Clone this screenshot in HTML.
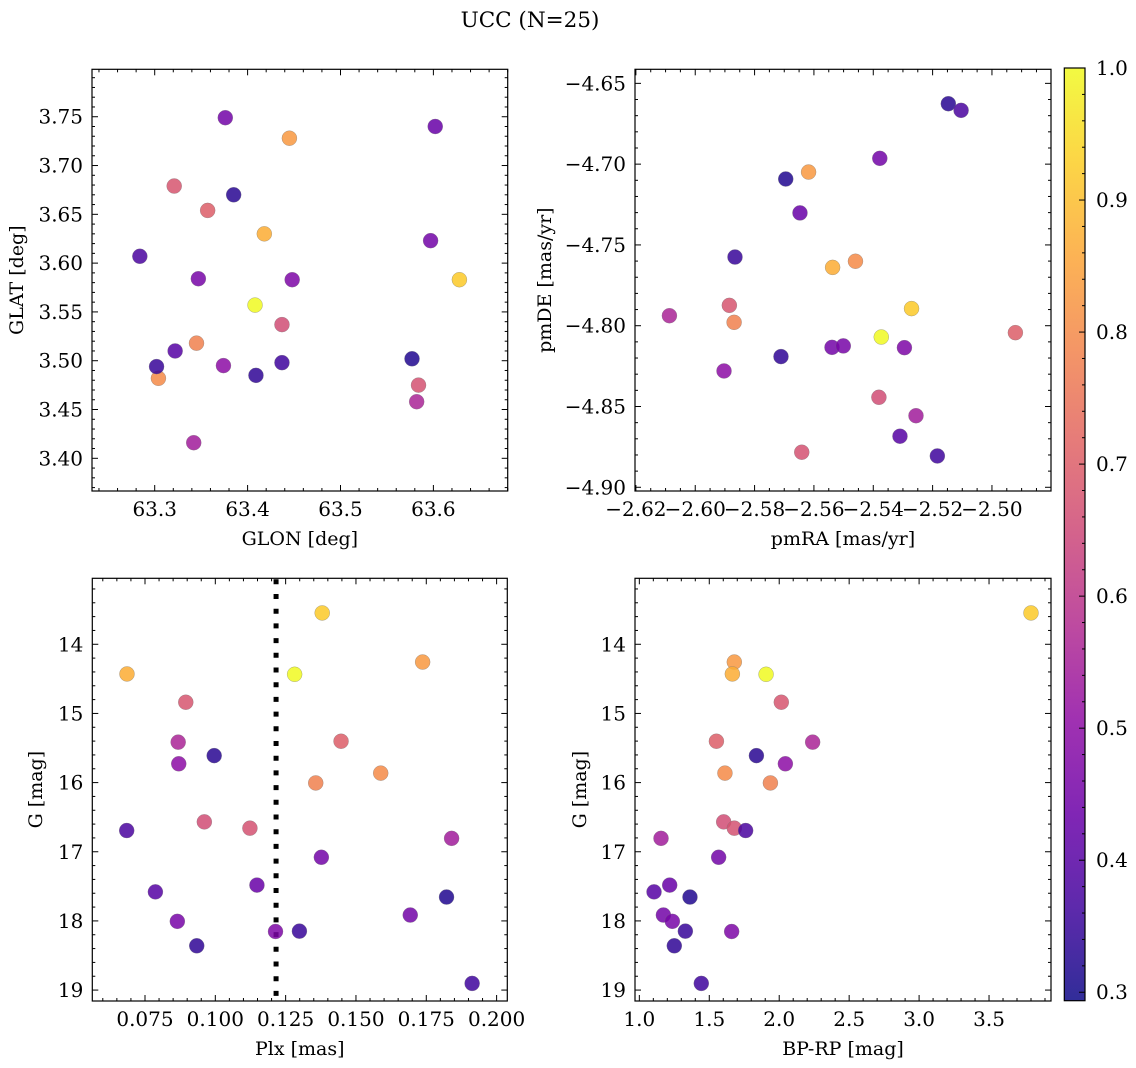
<!DOCTYPE html>
<html><head><meta charset="utf-8">
<style>
html,body{margin:0;padding:0;background:#fff;}
svg{display:block;font-family:"DejaVu Serif","Liberation Serif",serif;}
</style></head>
<body>
<svg id="fig" width="1136" height="1068" viewBox="0 0 1136 1068" xmlns="http://www.w3.org/2000/svg">
<rect width="1136" height="1068" fill="#fff"/>
<text x="530" y="27" font-size="21.5" text-anchor="middle">UCC (N=25)</text>
</svg>
<script>
// ---- data (one entry per star) ----
const glon = [63.628,63.445,63.418,63.408,63.321,63.357,63.582,63.385,63.374,63.304,63.345,63.437,63.584,63.284,63.342,63.376,63.602,63.322,63.577,63.597,63.347,63.302,63.448,63.409,63.437];
const glat = [3.583,3.728,3.630,3.557,3.679,3.654,3.458,3.670,3.495,3.482,3.518,3.537,3.475,3.607,3.416,3.749,3.740,3.510,3.502,3.623,3.584,3.494,3.583,3.485,3.498];
const pmra = [-2.5271,-2.5618,-2.5537,-2.5373,-2.5885,-2.4921,-2.6087,-2.5147,-2.5903,-2.5460,-2.5869,-2.5381,-2.5641,-2.5104,-2.5256,-2.5378,-2.5647,-2.5310,-2.5695,-2.5539,-2.5501,-2.5866,-2.5295,-2.5711,-2.5184];
const pmde = [-4.7894,-4.7049,-4.7639,-4.8070,-4.7874,-4.8043,-4.7938,-4.6626,-4.8280,-4.7601,-4.7979,-4.8443,-4.8783,-4.6667,-4.8557,-4.6964,-4.7302,-4.8684,-4.7092,-4.8134,-4.8125,-4.7575,-4.8136,-4.8191,-4.8806];
const plx = [0.1380,0.1737,0.0686,0.1282,0.0895,0.1447,0.0868,0.0996,0.0870,0.1588,0.1357,0.0961,0.1123,0.0685,0.1840,0.1377,0.1148,0.0787,0.1822,0.1693,0.0865,0.1299,0.1214,0.0934,0.1913];
const gmag = [13.547,14.257,14.429,14.434,14.838,15.402,15.415,15.610,15.728,15.863,16.005,16.568,16.659,16.693,16.806,17.080,17.482,17.580,17.655,17.915,18.006,18.148,18.153,18.360,18.904];
const bprp = [3.800,1.679,1.665,1.906,2.015,1.551,2.239,1.837,2.044,1.612,1.937,1.603,1.679,1.760,1.155,1.567,1.217,1.105,1.362,1.172,1.236,1.329,1.660,1.250,1.443];
const prob = [0.92,0.83,0.87,1.00,0.68,0.70,0.56,0.33,0.50,0.80,0.78,0.66,0.67,0.38,0.54,0.45,0.43,0.40,0.32,0.45,0.46,0.35,0.47,0.34,0.36];
const plxCut = [0.1216];
const cbTicks = [0.3,0.4,0.5,0.6,0.7,0.8,0.9,1.0];

const NS="http://www.w3.org/2000/svg";
const fig=document.getElementById('fig');
function mk(tag,attrs,parent){const e=document.createElementNS(NS,tag);for(const k in attrs)e.setAttribute(k,attrs[k]);(parent||fig).appendChild(e);return e;}

const stops=[[0,13,8,135],[0.1,65,4,157],[0.2,106,0,168],[0.3,143,13,164],[0.4,177,42,144],[0.5,204,71,120],[0.6,225,100,98],[0.7,242,132,75],[0.8,252,166,54],[0.9,252,206,37],[1,240,249,33]];
function plasma(t){t=Math.max(0,Math.min(1,t));for(let i=0;i<stops.length-1;i++){const a=stops[i],b=stops[i+1];if(t<=b[0]){const f=(t-a[0])/(b[0]-a[0]);return `rgb(${Math.round(a[1]+f*(b[1]-a[1]))},${Math.round(a[2]+f*(b[2]-a[2]))},${Math.round(a[3]+f*(b[3]-a[3]))})`;}}return 'rgb(240,249,33)';}
const vmin=0.2936,vmax=1.0;
function cnorm(v){return (v-vmin)/(vmax-vmin);}

function fmt(v,d){const s=Math.abs(v).toFixed(d);return (v<0?'\u2212':'')+s;}
const FS=20, LFS=19;

function panel(cfg){
  const g=mk('g',{});
  
  
  const {L,R,T,B}=cfg;
  const sx=v=>L+(v-cfg.x0)/(cfg.x1-cfg.x0)*(R-L);
  const sy=cfg.yinv? (v=>T+(v-cfg.y0)/(cfg.y1-cfg.y0)*(B-T)) : (v=>B-(v-cfg.y0)/(cfg.y1-cfg.y0)*(B-T));
  const eps=1e-9;
  const xmn=Math.min(cfg.x0,cfg.x1), xmx=Math.max(cfg.x0,cfg.x1);
  for(let v=Math.ceil(xmn/cfg.xminor-eps)*cfg.xminor; v<=xmx+eps; v+=cfg.xminor){
    const isMaj=Math.abs(v/cfg.xmajor-Math.round(v/cfg.xmajor))<1e-6;
    const len=isMaj?6:3, x=sx(v);
    mk('line',{x1:x,x2:x,y1:B,y2:B-len,stroke:'#000','stroke-width':1},g);
    mk('line',{x1:x,x2:x,y1:T,y2:T+len,stroke:'#000','stroke-width':1},g);
  }
  const ymn=Math.min(cfg.y0,cfg.y1), ymx=Math.max(cfg.y0,cfg.y1);
  for(let v=Math.ceil(ymn/cfg.yminor-eps)*cfg.yminor; v<=ymx+eps; v+=cfg.yminor){
    const isMaj=Math.abs(v/cfg.ymajor-Math.round(v/cfg.ymajor))<1e-6;
    const len=isMaj?6:3, y=sy(v);
    mk('line',{x1:L,x2:L+len,y1:y,y2:y,stroke:'#000','stroke-width':1},g);
    mk('line',{x1:R,x2:R-len,y1:y,y2:y,stroke:'#000','stroke-width':1},g);
  }
  cfg.xticks.forEach(v=>{const t=mk('text',{x:sx(v),y:cfg.xtY,'font-size':FS,'text-anchor':'middle'},g);t.textContent=fmt(v,cfg.xd);
    
    });
  cfg.yticks.forEach(v=>{const t=mk('text',{x:L-9,y:sy(v)+7,'font-size':FS,'text-anchor':'end'},g);t.textContent=fmt(v,cfg.yd);
    
    });
  const xl=mk('text',{x:(L+R)/2,y:cfg.xlY,'font-size':LFS,'text-anchor':'middle'},g);xl.textContent=cfg.xlabel;
  
  
  const yl=mk('text',{x:cfg.ylX,y:(T+B)/2,'font-size':LFS,'text-anchor':'middle',transform:`rotate(-90 ${cfg.ylX} ${(T+B)/2})`},g);yl.textContent=cfg.ylabel;
  
  
  if(cfg.vline){cfg.vline.forEach(v=>{const l=mk('line',{x1:sx(v),x2:sx(v),y1:T+1,y2:B,stroke:'#000','stroke-width':5,'stroke-dasharray':'5 9.7'},g);
    
    });}
  for(let i=0;i<cfg.xs.length;i++){
    const c=mk('circle',{cx:sx(cfg.xs[i]),cy:sy(cfg.ys[i]),r:7.5,fill:plasma(cnorm(prob[i])),'fill-opacity':0.85,stroke:'#777','stroke-width':0.5,'stroke-opacity':0.6},g);
    
    
  }
  mk('rect',{x:L,y:T,width:R-L,height:B-T,fill:'none',stroke:'#000','stroke-width':1.2},g);
}

panel({name:'glon-glat-panel',L:92,R:507.7,T:69.3,B:491,x0:63.2325,x1:63.680,y0:3.3665,y1:3.7986,
  xmajor:0.1,xminor:0.02,ymajor:0.05,yminor:0.01,xticks:[63.3,63.4,63.5,63.6],yticks:[3.40,3.45,3.50,3.55,3.60,3.65,3.70,3.75],
  xd:1,yd:2,xtY:516,xlY:545,ylX:23,xlabel:'GLON [deg]',ylabel:'GLAT [deg]',xs:glon,ys:glat});
panel({name:'pm-panel',L:635,R:1051,T:69.3,B:491,x0:-2.6203,x1:-2.4801,y0:-4.9023,y1:-4.6413,
  xmajor:0.02,xminor:0.005,ymajor:0.05,yminor:0.01,xticks:[-2.62,-2.60,-2.58,-2.56,-2.54,-2.52,-2.50],yticks:[-4.90,-4.85,-4.80,-4.75,-4.70,-4.65],
  xd:2,yd:2,xtY:516,xlY:545,ylX:551,xlabel:'pmRA [mas/yr]',ylabel:'pmDE [mas/yr]',xs:pmra,ys:pmde});
panel({name:'plx-g-panel',L:92.3,R:507.3,T:578.3,B:1001,x0:0.05627,x1:0.2038,y0:13.046,y1:19.158,yinv:true,
  xmajor:0.025,xminor:0.005,ymajor:1,yminor:0.2,xticks:[0.075,0.100,0.125,0.150,0.175,0.200],yticks:[14,15,16,17,18,19],
  xd:3,yd:0,xtY:1026,xlY:1055,ylX:42,xlabel:'Plx [mas]',ylabel:'G [mag]',xs:plx,ys:gmag,vline:plxCut});
panel({name:'cmd-panel',L:635,R:1051,T:578.3,B:1001,x0:0.969,x1:3.943,y0:13.046,y1:19.158,yinv:true,
  xmajor:0.5,xminor:0.1,ymajor:1,yminor:0.2,xticks:[1.0,1.5,2.0,2.5,3.0,3.5],yticks:[14,15,16,17,18,19],
  xd:1,yd:0,xtY:1026,xlY:1055,ylX:586,xlabel:'BP-RP [mag]',ylabel:'G [mag]',xs:bprp,ys:gmag});

// colorbar
const cb=mk('g',{});


const cbL=1064.3,cbR=1085,cbT=68,cbB=1000.7;
const cby=v=>cbB-(v-vmin)/(vmax-vmin)*(cbB-cbT);
const defs=mk('defs',{},cb);
const lg=mk('linearGradient',{id:'cbg',x1:0,y1:1,x2:0,y2:0},defs);
for(let i=0;i<=20;i++){const t=i/20;mk('stop',{offset:t,'stop-color':plasma(t),'stop-opacity':0.85},lg);}
mk('rect',{x:cbL,y:cbT,width:cbR-cbL,height:cbB-cbT,fill:'url(#cbg)'},cb);
for(let v=0.30;v<=1.0001;v+=0.02){const y=cby(v);const maj=Math.abs(v*10-Math.round(v*10))<1e-6;mk('line',{x1:cbR,x2:cbR-(maj?6:3),y1:y,y2:y,stroke:'#000','stroke-width':1},cb);}
cbTicks.forEach(v=>{const t=mk('text',{x:1096,y:cby(v)+7,'font-size':FS},cb);t.textContent=v.toFixed(1);
  
  });
mk('rect',{x:cbL,y:cbT,width:cbR-cbL,height:cbB-cbT,fill:'none',stroke:'#000','stroke-width':1.2},cb);
</script>
</body></html>
